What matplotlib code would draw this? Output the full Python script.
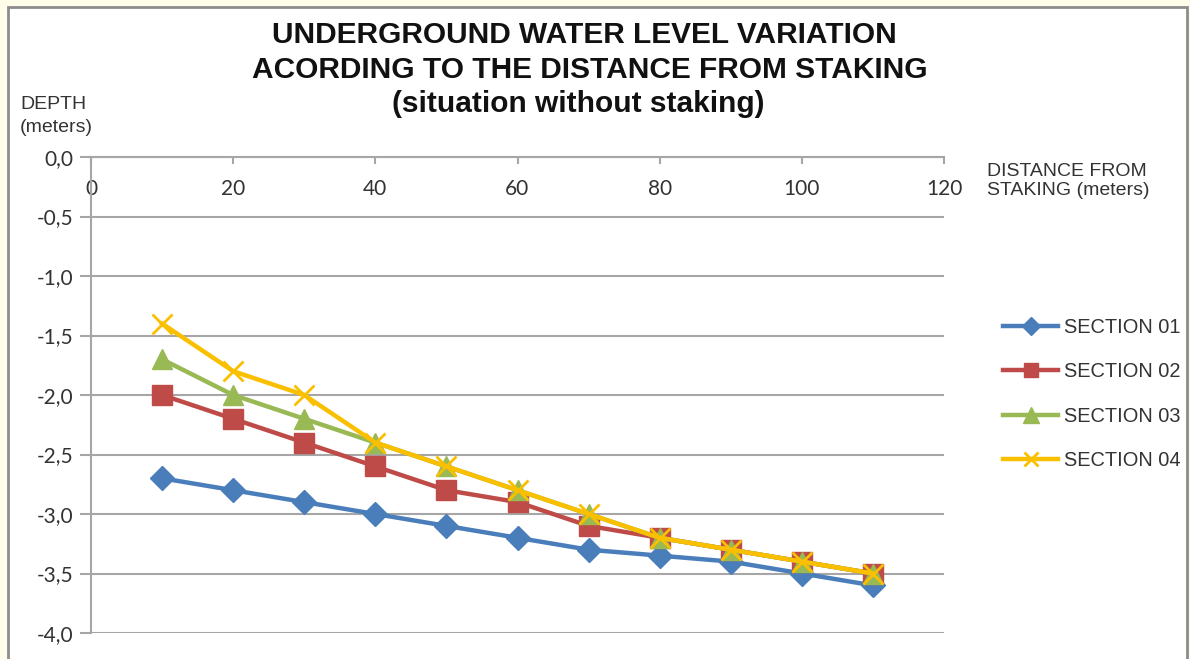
import matplotlib
matplotlib.use('Agg')
import matplotlib.pyplot as plt
from matplotlib.patches import Rectangle
from matplotlib.ticker import FuncFormatter

distance = [10, 20, 30, 40, 50, 60, 70, 80, 90, 100, 110]
section01 = [-2.7, -2.8, -2.9, -3.0, -3.1, -3.2, -3.3, -3.35, -3.4, -3.5, -3.6]
section02 = [-2.0, -2.2, -2.4, -2.6, -2.8, -2.9, -3.1, -3.2, -3.3, -3.4, -3.5]
section03 = [-1.7, -2.0, -2.2, -2.4, -2.6, -2.8, -3.0, -3.2, -3.3, -3.4, -3.5]
section04 = [-1.4, -1.8, -2.0, -2.4, -2.6, -2.8, -3.0, -3.2, -3.3, -3.4, -3.5]
names = ['SECTION 01', 'SECTION 02', 'SECTION 03', 'SECTION 04']
x_ticks = [0, 20, 40, 60, 80, 100, 120]
y_ticks = [0.0, -0.5, -1.0, -1.5, -2.0, -2.5, -3.0, -3.5, -4.0]

W, H = 1190, 659
fig = plt.figure(figsize=(W / 100, H / 100), dpi=100)
fig.patch.set_facecolor('#fffdea')
# white chart area with grey frame
fig.patches.append(Rectangle((8 / W, -0.05), (1187 - 8) / W, 1.05 - 7 / H,
                             transform=fig.transFigure, facecolor='white',
                             edgecolor='#8c8c8c', linewidth=2, zorder=-5))

ax = fig.add_axes([91 / W, 1 - 633 / H, (944 - 91) / W, (633 - 157) / H])
ax.set_facecolor('none')

styles = [
    dict(color='#4a7ebb', marker='D', markersize=12),
    dict(color='#be4b48', marker='s', markersize=14),
    dict(color='#98b954', marker='^', markersize=15),
    dict(color='#fac000', marker='x', markersize=14, markeredgewidth=2),
]
for vals, name, st in zip([section01, section02, section03, section04], names, styles):
    ax.plot(distance, vals, linewidth=3.2, label=name, clip_on=False, **st)

ax.set_xlim(0, 120)
ax.set_ylim(-4, 0)
ax.set_xticks(x_ticks)
ax.set_yticks(y_ticks)
ax.yaxis.set_major_formatter(FuncFormatter(lambda v, p: f'{v:.1f}'.replace('.', ',').replace('-0,0', '0,0')))

ax.grid(axis='y', color='#a6a6a6', linewidth=1.5)
ax.set_axisbelow(True)
ax.spines['top'].set_visible(False)
ax.spines['right'].set_visible(False)
ax.spines['bottom'].set_position(('data', 0))
for s in ['bottom', 'left']:
    ax.spines[s].set_color('#a6a6a6')
    ax.spines[s].set_linewidth(1.5)

ax.tick_params(axis='x', direction='out', length=5, width=1.5, color='#a6a6a6',
               pad=11, labelsize=15, labelcolor='#333333')
ax.tick_params(axis='y', direction='out', length=8, width=1.5, color='#a6a6a6',
               pad=5, labelsize=15, labelcolor='#333333')
for lbl in ax.get_xticklabels() + ax.get_yticklabels():
    lbl.set_family(['Lato', 'DejaVu Sans'])

title_font = dict(ha='center', va='center', fontsize=21.5, fontweight='bold',
                  family='Liberation Sans', color='#111111')
fig.text(0.491, 1 - 35 / H, 'UNDERGROUND WATER LEVEL VARIATION', **title_font)
fig.text(0.496, 1 - 70 / H, 'ACORDING TO THE DISTANCE FROM STAKING', **title_font)
fig.text(0.486, 1 - 104 / H, '(situation without staking)', **title_font)

fig.text(20 / W, 1 - 116 / H, 'DEPTH\n(meters)', ha='left', va='center', fontsize=14,
         family='Liberation Sans', color='#333333', linespacing=1.5)
fig.text(987 / W, 1 - 181 / H, 'DISTANCE FROM\nSTAKING (meters)', ha='left', va='center', fontsize=14,
         family='Liberation Sans', color='#333333', linespacing=1.2)

leg = ax.legend(loc='center left', bbox_to_anchor=(995 / W, 1 - 394 / H), bbox_transform=fig.transFigure,
                frameon=False, handlelength=2.75, labelspacing=1.27, handletextpad=0.3,
                borderaxespad=0, markerscale=0.75,
                prop={'family': 'Liberation Sans', 'size': 14.4})
for t in leg.get_texts():
    t.set_color('#333333')

fig.savefig('out.png', dpi=100, facecolor=fig.get_facecolor())
